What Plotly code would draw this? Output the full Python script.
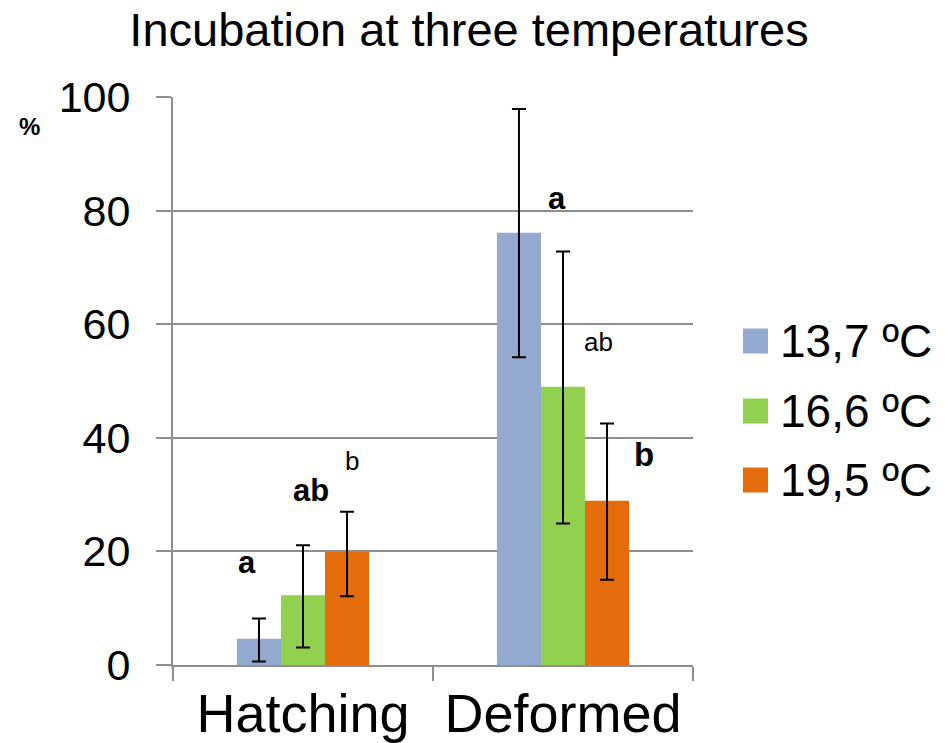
import plotly.graph_objects as go

# ---- data ----
categories = ["Hatching", "Deformed"]
series_names = ["13,7 ºC", "16,6 ºC", "19,5 ºC"]
series_colors = ["#93A9CF", "#92D050", "#E46C0A"]
values_137 = [4.6, 76.1]
values_166 = [12.3, 49.0]
values_195 = [19.9, 28.9]
err_up_137 = [3.6, 21.8]
err_up_166 = [8.8, 23.8]
err_up_195 = [7.1, 13.6]
err_dn_137 = [4.0, 21.9]
err_dn_166 = [9.2, 24.1]
err_dn_195 = [7.8, 13.9]
y_ticks = [0, 20, 40, 60, 80, 100]

# significance letters: category, text, y, bold, size, xshift px from group centre
letters_cat = ["Hatching", "Hatching", "Hatching", "Deformed", "Deformed", "Deformed"]
letters_txt = ["a", "ab", "b", "a", "ab", "b"]
letters_y = [18.1, 30.8, 35.9, 82.2, 56.9, 37.0]
letters_bold = [True, True, False, True, False, True]
letters_size = [31, 31, 26, 31, 26, 33]
letters_dx = [-56, 8, 49, -6, 35, 81]

values = [values_137, values_166, values_195]
err_up = [err_up_137, err_up_166, err_up_195]
err_dn = [err_dn_137, err_dn_166, err_dn_195]

FONT = "Liberation Sans, Arial, sans-serif"
GRID = "#8e8e8e"

# page has an 8px body margin; figure coords = page coords - 8
W, H = 933, 735
L, T = 165, 89
PLOT_R, PLOT_B = 685, 657
R, B = W - PLOT_R, H - PLOT_B
PW, PH = PLOT_R - L, PLOT_B - T

fig = go.Figure()
for name, col, v, eu, ed in zip(series_names, series_colors, values, err_up, err_dn):
    fig.add_trace(go.Bar(
        name=name, x=categories, y=v, marker=dict(color=col, line=dict(width=0)),
        error_y=dict(type="data", array=eu, arrayminus=ed, color="black",
                     thickness=2, width=7),
        showlegend=False,
    ))

annotations = []
for c, t, y, b, s, dx in zip(letters_cat, letters_txt, letters_y, letters_bold, letters_size, letters_dx):
    annotations.append(dict(
        x=c, y=y, xref="x", yref="y", text=f"<b>{t}</b>" if b else t,
        showarrow=False, xshift=dx, xanchor="center", yanchor="middle",
        font=dict(family=FONT, size=s, color="black"),
    ))

def px_x(p):  # figure px -> paper x
    return (p - L) / PW

def px_y(p):  # figure px -> paper y
    return (PLOT_B - p) / PH

# "%" label
annotations.append(dict(
    x=px_x(21), y=px_y(118), xref="paper", yref="paper",
    text="<b>%</b>", showarrow=False, xanchor="center", yanchor="middle",
    font=dict(family=FONT, size=24, color="black"),
))

# custom legend
shapes = []
leg_rows = [333, 403, 472]
for (name, col, py) in zip(series_names, series_colors, leg_rows):
    yc = px_y(py)
    half = 12.5 / PH
    shapes.append(dict(type="rect", xref="paper", yref="paper",
                       x0=px_x(735), x1=px_x(760), y0=yc - half, y1=yc + half,
                       fillcolor=col, line=dict(width=0)))
    annotations.append(dict(
        x=px_x(770), y=yc, xref="paper", yref="paper", text=name,
        showarrow=False, xanchor="left", yanchor="middle",
        font=dict(family=FONT, size=46, color="black"),
    ))

fig.update_layout(
    width=W, height=H,
    margin=dict(l=L, r=R, t=T, b=B, autoexpand=False),
    paper_bgcolor="white", plot_bgcolor="white",
    barmode="group", bargap=0.492, bargroupgap=0,
    title=dict(text="Incubation at three temperatures", x=461 / W, xanchor="center",
               y=1 - 22 / H, yanchor="middle", yref="container",
               font=dict(family=FONT, size=47, color="black")),
    font=dict(family=FONT, color="black"),
    annotations=annotations, shapes=shapes,
    showlegend=False,
)
fig.update_xaxes(
    type="category", showline=True, linecolor=GRID, linewidth=2,
    ticks="outside", tickson="boundaries", ticklen=14, tickcolor=GRID, tickwidth=2,
    tickfont=dict(family=FONT, size=54, color="black"),
    ticklabelstandoff=0, automargin=False,
    showgrid=False, zeroline=False,
)
fig.update_yaxes(
    range=[0, 100], tickvals=y_ticks, ticktext=[str(v) for v in y_ticks],
    showline=True, linecolor=GRID, linewidth=2,
    ticks="outside", ticklen=15, tickcolor=GRID, tickwidth=2,
    tickfont=dict(family=FONT, size=43, color="black"),
    ticklabelstandoff=17, automargin=False,
    showgrid=True, gridcolor=GRID, gridwidth=2, zeroline=False,
)

fig.write_html("out.html")
